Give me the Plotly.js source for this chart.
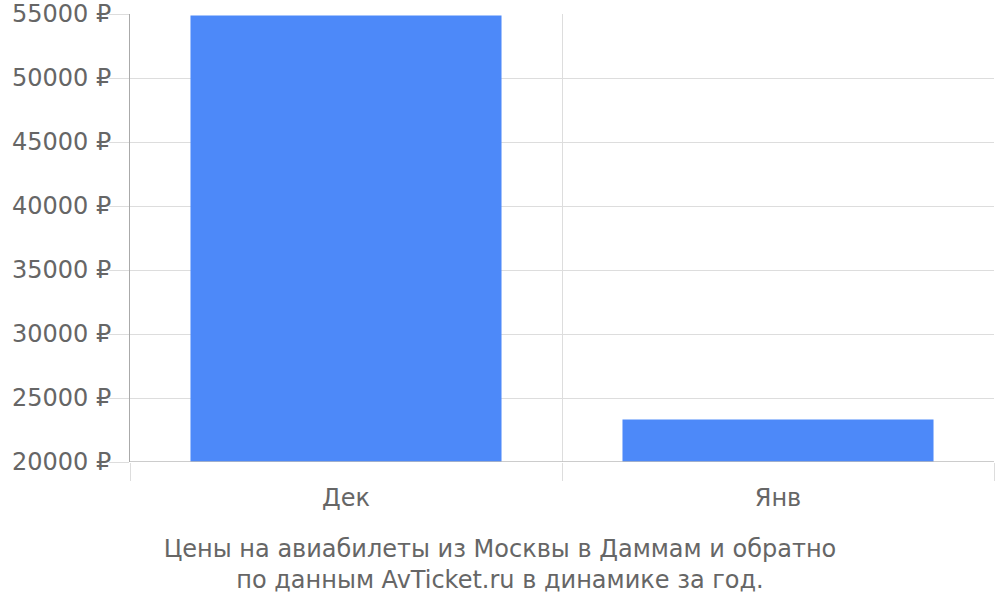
<!DOCTYPE html>
<html>
<head>
<meta charset="utf-8">
<script src="https://cdn.plot.ly/plotly-3.0.1.min.js"></script>
<style>html,body{margin:0;padding:0;background:#fff}</style>
</head>
<body>
<div id="gd" style="width:1000px;height:600px"></div>
<script>
// цены по месяцам
const months = ['Дек', 'Янв'];
const prices = [54880, 23320];
const yTicks = [20000, 25000, 30000, 35000, 40000, 45000, 50000, 55000];
const yTickText = yTicks.map(v => v + ' ₽');

const data = [{
  x: months,
  y: prices,
  type: 'bar',
  width: 0.72,
  marker: {color: '#4d89f9'},
  hoverinfo: 'none'
}];

const layout = {
  width: 1000,
  height: 600,
  margin: {l: 130, r: 6, t: 14, b: 138},
  paper_bgcolor: '#fff',
  plot_bgcolor: '#fff',
  font: {family: 'DejaVu Sans', size: 24, color: '#666'},
  showlegend: false,
  title: {
    text: 'Цены на авиабилеты из Москвы в Даммам и обратно<br>по данным AvTicket.ru в динамике за год.',
    font: {size: 24, color: '#666'},
    xref: 'container', yref: 'container',
    x: 0.5, xanchor: 'center',
    y: 0.072, yanchor: 'top'
  },
  xaxis: {
    type: 'category',
    tickson: 'boundaries',
    ticks: 'outside',
    ticklen: 18,
    tickcolor: '#ddd',
    ticklabelstandoff: 19,
    showgrid: true,
    gridcolor: '#ddd',
    showline: false,
    tickfont: {size: 24, color: '#666'}
  },
  yaxis: {
    range: [20000, 55000],
    tickmode: 'array',
    tickvals: yTicks,
    ticktext: yTickText,
    ticks: 'outside',
    ticklen: 20,
    tickcolor: '#ddd',
    ticklabelstandoff: -7,
    showgrid: true,
    gridcolor: '#ddd',
    showline: true,
    linecolor: '#aaa',
    zeroline: false,
    tickfont: {size: 24, color: '#666'}
  },
  shapes: [{
    type: 'line', xref: 'paper', yref: 'y',
    x0: 0, x1: 1, y0: 20000, y1: 20000,
    line: {color: '#bbb', width: 1.5}
  }]
};

Plotly.newPlot('gd', data, layout, {displayModeBar: false, staticPlot: true});
</script>
</body>
</html>
